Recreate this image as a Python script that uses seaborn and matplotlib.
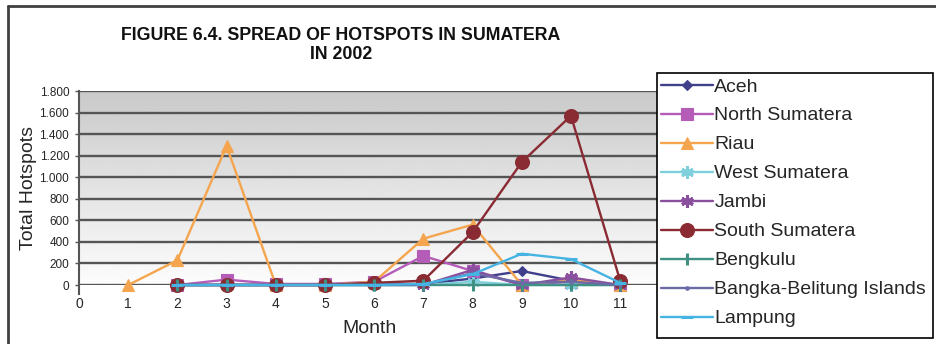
import numpy as np
import pandas as pd
import matplotlib
matplotlib.use("Agg")
import matplotlib.pyplot as plt
from matplotlib.lines import Line2D
from matplotlib.patches import Rectangle
from matplotlib.ticker import FuncFormatter, MultipleLocator
import seaborn as sns

# Monthly hotspot counts per province, Sumatera 2002
provinces = ["Aceh", "North Sumatera", "Riau", "West Sumatera", "Jambi",
             "South Sumatera", "Bengkulu", "Bangka-Belitung Islands", "Lampung"]

months_riau = [1, 2, 3, 4, 5, 6, 7, 8, 9, 10, 11]
months_other = [2, 3, 4, 5, 6, 7, 8, 9, 10, 11]

aceh = [0, 0, 0, 0, 10, 10, 60, 130, 40, 0]
north_sumatera = [0, 50, 10, 10, 30, 270, 130, 0, 30, 0]
riau = [0, 230, 1290, 0, 0, 30, 430, 560, 0, 50, 0]
west_sumatera = [0, 0, 0, 0, 0, 0, 30, 0, 0, 0]
jambi = [0, 0, 0, 0, 20, 0, 140, 0, 70, 0]
south_sumatera = [0, 0, 0, 0, 20, 40, 490, 1140, 1570, 40]
bengkulu = [0, 0, 0, 0, 0, 0, 0, 0, 0, 0]
bangka_belitung = [0, 0, 0, 0, 0, 0, 110, 20, 30, 0]
lampung = [0, 0, 0, 0, 0, 10, 100, 290, 240, 20]

series = {
    "Aceh": (months_other, aceh),
    "North Sumatera": (months_other, north_sumatera),
    "Riau": (months_riau, riau),
    "West Sumatera": (months_other, west_sumatera),
    "Jambi": (months_other, jambi),
    "South Sumatera": (months_other, south_sumatera),
    "Bengkulu": (months_other, bengkulu),
    "Bangka-Belitung Islands": (months_other, bangka_belitung),
    "Lampung": (months_other, lampung),
}

df = pd.concat(
    [pd.DataFrame({"Month": m, "Hotspots": v, "Province": p}) for p, (m, v) in series.items()],
    ignore_index=True,
)

colors = {
    "Aceh": "#3f3f8c",
    "North Sumatera": "#b55cb8",
    "Riau": "#f4a54e",
    "West Sumatera": "#7fd0dc",
    "Jambi": "#8a4f9e",
    "South Sumatera": "#8a2b33",
    "Bengkulu": "#3f9283",
    "Bangka-Belitung Islands": "#6c6aa6",
    "Lampung": "#45b4e2",
}
markers = {
    "Aceh": ("D", 5),
    "North Sumatera": ("s", 8),
    "Riau": ("^", 8),
    "West Sumatera": ((6, 2, 0), 9),
    "Jambi": ((6, 2, 0), 9),
    "South Sumatera": ("o", 10),
    "Bengkulu": ("|", 9),
    "Bangka-Belitung Islands": (".", 5),
    "Lampung": ("_", 9),
}


def edge_width(mk):
    return 2.2 if mk in ("|", "_", (6, 2, 0)) else 0.8


sns.set_theme(style="white")
plt.rcParams["font.family"] = ["Liberation Sans", "DejaVu Sans"]

fig = plt.figure(figsize=(9.36, 3.44), dpi=100)
W, H = 936, 344
ax = fig.add_axes([79 / W, 1 - 285 / H, (660 - 79) / W, (285 - 91) / H])

# grey-to-white vertical gradient for the plot area
grad = np.linspace(0.79, 0.99, 256).reshape(-1, 1)
ax.imshow(grad, cmap="gray", vmin=0, vmax=1, aspect="auto",
          extent=[0, 1, 0, 1], transform=ax.transAxes, zorder=0, origin="upper")

for p in provinces:
    sub = df[df["Province"] == p]
    mk, ms = markers[p]
    sns.lineplot(data=sub, x="Month", y="Hotspots", ax=ax, color=colors[p],
                 linewidth=1.7, marker=mk, markersize=ms,
                 markeredgecolor=colors[p], markerfacecolor=colors[p],
                 markeredgewidth=edge_width(mk),
                 legend=False, zorder=3, clip_on=False)

ax.set_xlim(0, 11.81)
ax.set_ylim(0, 1800)
ax.yaxis.set_major_locator(MultipleLocator(200))
ax.xaxis.set_major_locator(MultipleLocator(1))
ax.yaxis.set_major_formatter(FuncFormatter(lambda v, _: f"{v:,.0f}".replace(",", ".")))
ax.grid(axis="y", color="#555555", linewidth=1.7, zorder=1)
ax.set_axisbelow(True)
for s in ["top", "right", "bottom"]:
    ax.spines[s].set_visible(False)
ax.spines["left"].set_color("#555555")
ax.spines["left"].set_linewidth(1.5)
ax.spines["left"].set_bounds(-80, 1800)
ax.tick_params(axis="y", labelsize=8.5, length=3, width=1, color="#555555", pad=4, left=True)
ax.tick_params(axis="x", labelsize=10, length=0, pad=9)
ax.set_xlabel("Month", fontsize=14, labelpad=6)
ax.set_ylabel("Total Hotspots", fontsize=14, labelpad=2)

fig.text(341 / W, 1 - 45 / H, "FIGURE 6.4. SPREAD OF HOTSPOTS IN SUMATERA\nIN 2002",
         ha="center", va="center", fontsize=12.8, fontweight="bold",
         linespacing=1.1, color="#111111")

# outer frame (top and left edges)
fig.add_artist(Line2D([8 / W, 1], [1 - 6 / H, 1 - 6 / H], color="#404040", linewidth=2))
fig.add_artist(Line2D([8 / W, 8 / W], [0, 1 - 6 / H], color="#404040", linewidth=2))

# legend box
fig.add_artist(Rectangle((657 / W, 1 - 338 / H), (933 - 657) / W, (338 - 73) / H,
                         transform=fig.transFigure, facecolor="white",
                         edgecolor="black", linewidth=1.2, zorder=4))

handles = []
for p in provinces:
    mk, ms = markers[p]
    handles.append(Line2D([], [], color=colors[p], linewidth=1.7, marker=mk, markersize=ms,
                          markeredgecolor=colors[p], markerfacecolor=colors[p],
                          markeredgewidth=edge_width(mk)))
leg = fig.legend(handles, provinces, loc="upper left",
                 bbox_to_anchor=(657 / W, 1 - 74 / H), fontsize=14,
                 frameon=False, handlelength=2.7, handletextpad=0.05,
                 labelspacing=0.585, borderpad=0.2, borderaxespad=0)
leg.set_zorder(5)

fig.savefig("out.png", dpi=100)
